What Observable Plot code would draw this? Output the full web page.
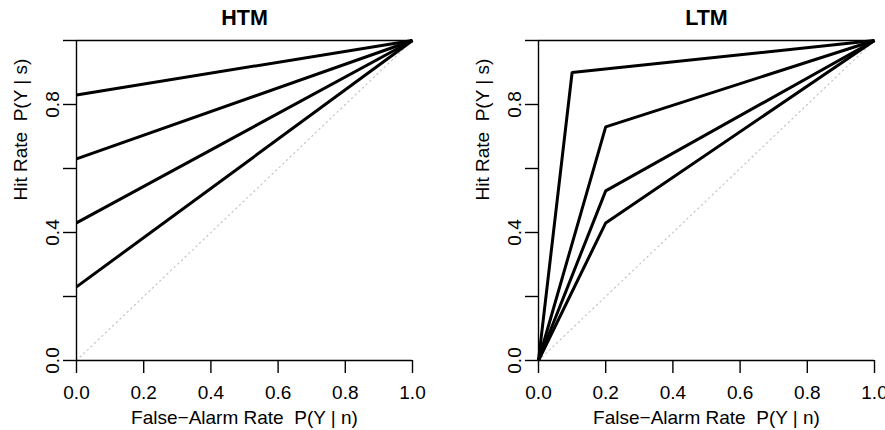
<!DOCTYPE html>
<html>
<head>
<meta charset="utf-8">
<script src="https://cdn.jsdelivr.net/npm/d3@7"></script>
<script src="https://cdn.jsdelivr.net/npm/@observablehq/plot@0.6"></script>
<style>
  html, body { margin: 0; padding: 0; background: #fff; }
  #wrap { display: flex; width: 885px; height: 430px; overflow: hidden; }
  svg { font-family: "Liberation Sans", Arial, Helvetica, sans-serif; }
</style>
</head>
<body>
<div id="wrap"></div>
<script>
// ----- data -----
const panelTitles = ["HTM", "LTM"];
// HTM: hit rate at false-alarm rate 0 for each line (each line ends at (1,1))
const htmIntercepts = [0.83, 0.63, 0.43, 0.23];
// LTM: knee points (false-alarm, hit) for each line (each from (0,0) to knee to (1,1))
const ltmKneeFA = [0.10, 0.20, 0.20, 0.20];
const ltmKneeHit = [0.90, 0.73, 0.53, 0.43];
const axisTicks = [0, 0.2, 0.4, 0.6, 0.8, 1.0];
const yTickLabels = [0, 0.4, 0.8];
const xLabel = "False\u2212Alarm Rate  P(Y | n)";
const yLabel = "Hit Rate  P(Y | s)";

// build line tables
const htmRows = htmIntercepts.flatMap((a, i) => [
  {line: i, fa: 0, hit: a},
  {line: i, fa: 1, hit: 1}
]);
const ltmRows = ltmKneeFA.flatMap((f, i) => [
  {line: i, fa: 0, hit: 0},
  {line: i, fa: f, hit: ltmKneeHit[i]},
  {line: i, fa: 1, hit: 1}
]);
const diag = [{fa: 0, hit: 0}, {fa: 1, hit: 1}];

function panel(title, rows, width, marginLeft, marginRight) {
  return Plot.plot({
    width, height: 430,
    marginLeft, marginRight, marginTop: 40, marginBottom: 70,
    style: {fontFamily: "Liberation Sans, Arial, sans-serif", fontSize: "19px", color: "#000", background: "#fff", overflow: "visible"},
    x: {domain: [0, 1]},
    y: {domain: [0, 1]},
    marks: [
      Plot.line(diag, {x: "fa", y: "hit", stroke: "#c4c4c4", strokeWidth: 1.2, strokeDasharray: "1.2,3.8"}),
      Plot.ruleY([0, 1], {x1: 0, x2: 1, stroke: "#000", strokeWidth: 1.4}),
      Plot.ruleX([0], {y1: 0, y2: 1, stroke: "#000", strokeWidth: 1.4}),
      Plot.line(rows, {x: "fa", y: "hit", z: "line", stroke: "#000", strokeWidth: 3, strokeLinejoin: "miter", strokeLinecap: "butt"}),
      Plot.axisX({ticks: axisTicks, tickSize: 13, tickPadding: 12, tickFormat: d3.format(".1f"), label: null, fontSize: 19, strokeWidth: 1.4}),
      Plot.axisY({ticks: axisTicks, tickSize: 13, tickRotate: -90, tickPadding: 5, label: null, fontSize: 19, strokeWidth: 1.4,
        tickFormat: d => yTickLabels.some(v => Math.abs(v - d) < 1e-9) ? d3.format(".1f")(d) : ""}),
      Plot.text([title], {frameAnchor: "top", dy: -22, fontWeight: "bold", fontSize: 21.5, lineAnchor: "middle"}),
      Plot.text([xLabel], {frameAnchor: "bottom", dy: 57, fontSize: 19, lineAnchor: "middle"}),
      Plot.text([yLabel], {frameAnchor: "left", dx: -56, rotate: -90, fontSize: 19, lineAnchor: "middle"})
    ]
  });
}

const wrap = document.getElementById("wrap");
wrap.append(panel(panelTitles[0], htmRows, 442, 76, 30));
wrap.append(panel(panelTitles[1], ltmRows, 443, 96, 11));
</script>
</body>
</html>
